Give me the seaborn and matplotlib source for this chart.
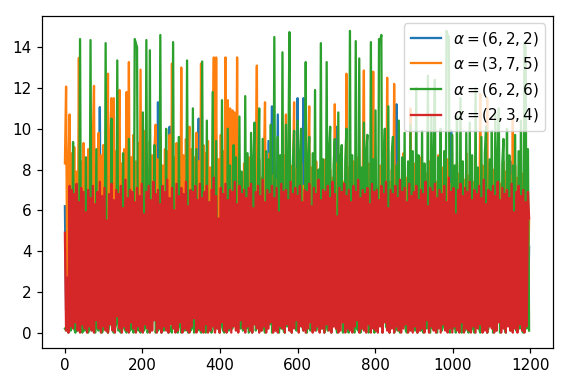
import matplotlib
matplotlib.use("Agg")
import matplotlib.pyplot as plt
import seaborn as sns

# sample positions (every 3rd step of the 0..1199 index range)
x_idx = list(range(0, 1200, 3))

labels = [r"$\alpha=(6,2,2)$", r"$\alpha=(3,7,5)$", r"$\alpha=(6,2,6)$", r"$\alpha=(2,3,4)$"]
colors = ["#1f77b4", "#ff7f0e", "#2ca02c", "#d62728"]

blue = [
    6.2, 1.1, 5.8, 0.6, 6.7, 2.0, 5.4, 0.9, 6.5, 1.5, 6.0, 0.7, 5.6, 1.8, 6.9, 0.5, 5.9, 2.2, 6.4, 1.0,
    5.7, 1.6, 6.6, 0.8, 6.1, 2.3, 5.5, 1.2, 6.8, 0.6, 11.06, 1.9, 6.3, 0.9, 5.6, 1.4, 6.7, 0.7, 6.0, 2.1,
    6.4, 0.9, 5.5, 1.3, 6.8, 0.7, 6.1, 2.1, 5.7, 1.0, 6.6, 0.5, 6.0, 1.7, 5.3, 0.8, 6.9, 1.4, 5.8, 0.6,
    6.1, 2.0, 6.7, 0.9, 5.6, 1.2, 6.3, 0.6, 6.9, 1.8, 5.4, 1.1, 6.5, 0.7, 6.0, 2.4, 5.8, 0.9, 6.6, 1.3,
    11.3, 0.8, 6.2, 1.5, 5.7, 0.6, 6.8, 2.2, 5.9, 1.0, 10.1, 0.7, 6.4, 1.9, 5.5, 1.2, 6.7, 0.5, 6.1, 1.6,
    5.8, 0.9, 6.6, 2.1, 6.0, 0.7, 5.4, 1.3, 6.9, 0.6, 6.2, 1.8, 5.7, 1.0, 6.5, 10.5, 0.8, 6.3, 2.0, 5.6,
    1.2, 6.8, 0.6, 6.1, 1.7, 5.9, 0.9, 6.6, 2.3, 5.5, 1.0, 6.4, 0.7, 6.0, 1.5, 6.7, 0.5, 5.8, 2.0, 6.3,
    0.9, 6.2, 1.4, 5.7, 0.6, 6.9, 2.1, 5.6, 1.1, 6.5, 0.8, 6.0, 1.9, 6.4, 0.7, 5.9, 1.3, 8.5, 0.5, 6.6,
    1.6, 6.1, 0.7, 5.8, 2.2, 6.7, 0.9, 5.5, 1.2, 6.3, 0.6, 6.8, 1.8, 6.0, 1.0, 9.4, 0.8, 6.4, 11.1, 1.5,
    6.2, 0.6, 5.9, 10.7, 1.1, 6.6, 2.0, 5.7, 0.8, 6.9, 1.4, 6.1, 0.5, 5.6, 1.9, 6.5, 0.9, 6.0, 2.3, 5.8,
    11.5, 0.7, 6.4, 1.3, 6.1, 11.5, 0.9, 5.7, 2.1, 6.8, 0.6, 6.2, 1.6, 5.5, 1.0, 6.7, 0.8, 6.0, 1.8, 6.3,
    0.5, 5.9, 1.2, 6.6, 2.2, 5.8, 0.9, 6.4, 1.5, 6.1, 0.7, 6.9, 1.9, 10.1, 0.6, 5.6, 1.1, 6.5, 2.0, 6.2,
    0.8, 5.7, 1.4, 6.3, 0.6, 6.8, 2.1, 5.9, 1.0, 6.5, 0.7, 6.0, 1.7, 5.4, 1.2, 6.7, 0.5, 6.2, 2.3, 5.8,
    0.9, 6.6, 1.3, 6.1, 0.6, 5.7, 1.9, 6.9, 0.8, 6.4, 1.5, 5.9, 0.7, 6.3, 2.2, 5.6, 1.0, 6.8, 0.5, 6.0,
    1.6, 6.5, 0.8, 5.8, 1.2, 11.2, 0.7, 6.2, 2.0, 6.7, 0.9, 5.5, 1.4, 6.4, 0.6, 6.1, 1.8, 5.9, 1.0, 6.6,
    0.7, 6.3, 2.1, 5.7, 0.9, 6.8, 1.3, 6.0, 0.5, 6.5, 1.7, 5.8, 1.1, 6.9, 0.8, 6.2, 2.3, 5.6, 0.6, 6.4,
    1.2, 6.1, 0.7, 6.7, 1.9, 5.9, 0.9, 6.3, 1.5, 5.5, 0.6, 6.6, 9.9, 1.0, 6.0, 2.0, 5.8, 0.8, 6.5, 1.4,
    6.2, 0.5, 5.7, 1.8, 6.9, 1.0, 6.4, 0.7, 5.9, 2.2, 6.1, 0.9, 6.8, 1.3, 5.6, 0.6, 6.5, 1.6, 6.0, 0.8,
    6.7, 2.1, 5.8, 0.9, 6.3, 1.2, 6.6, 0.5, 5.5, 1.7, 6.9, 0.8, 6.2, 1.4, 5.9, 2.0, 6.4, 0.7, 6.1, 1.1,
    5.7, 0.6, 6.5, 8.4, 1.3, 6.0, 1.9, 6.8, 0.7, 5.8, 1.0, 6.3, 2.2, 6.6, 0.9, 5.6, 1.5, 6.2, 0.8, 4.2,
]

orange = [
    8.3, 12.07, 2.1, 8.0, 10.7, 1.5, 8.8, 2.4, 9.1, 1.2, 7.9, 3.0, 13.48, 2.0, 8.4, 1.1, 9.3, 2.6, 8.1, 0.8,
    9.0, 1.7, 8.6, 2.9, 9.5, 12.1, 1.3, 8.2, 2.2, 9.8, 0.9, 8.7, 3.1, 9.2, 1.4, 8.5, 2.5, 12.7, 1.0, 9.4,
    11.5, 2.0, 11.5, 1.6, 8.9, 2.7, 9.6, 11.9, 1.1, 8.3, 2.4, 9.0, 0.8, 11.8, 2.9, 13.27, 1.5, 8.6, 2.2, 9.7,
    1.0, 8.4, 3.2, 9.3, 1.8, 12.9, 2.1, 8.8, 1.2, 9.9, 2.6, 8.1, 0.7, 9.4, 2.3, 8.7, 1.4, 9.1, 10.2, 1.9,
    8.5, 2.8, 9.6, 1.1, 8.2, 2.4, 9.0, 0.9, 8.9, 3.0, 9.7, 1.6, 13.2, 2.2, 8.6, 1.3, 9.3, 2.7, 8.0, 1.0,
    13.0, 2.1, 8.7, 1.5, 9.5, 2.9, 8.3, 10.1, 1.2, 9.0, 2.5, 8.6, 0.8, 9.8, 1.9, 8.4, 2.3, 13.2, 1.4, 9.2,
    2.6, 8.8, 1.0, 9.4, 2.2, 8.1, 1.7, 9.1, 13.5, 2.0, 13.5, 1.3, 8.5, 2.8, 9.7, 1.1, 8.9, 2.4, 13.5, 1.6,
    11.4, 2.3, 11.0, 1.2, 10.9, 2.7, 10.8, 1.5, 13.5, 2.0, 8.0, 0.9, 7.4, 2.6, 8.3, 1.8, 7.7, 3.0, 8.6, 1.1,
    7.2, 2.2, 8.1, 1.4, 7.8, 13.1, 1.0, 8.5, 2.5, 7.6, 1.7, 8.2, 11.3, 2.1, 7.3, 0.8, 8.8, 2.4, 7.7, 1.3,
    8.0, 2.9, 7.5, 1.1, 8.4, 2.0, 7.1, 1.6, 8.7, 2.3, 10.7, 0.9, 7.9, 2.7, 8.2, 1.2, 7.4, 11.3, 1.8, 8.0,
    2.4, 7.6, 1.0, 8.3, 2.6, 7.2, 1.5, 8.6, 2.1, 7.8, 11.1, 1.3, 8.1, 2.8, 7.5, 0.7, 8.4, 2.2, 7.0, 1.7,
    8.2, 2.5, 7.7, 1.1, 8.5, 2.0, 7.3, 1.4, 8.0, 2.9, 7.6, 1.0, 11.2, 2.3, 8.3, 1.6, 7.8, 2.7, 8.7, 1.2,
    7.4, 2.1, 12.7, 1.5, 8.1, 2.6, 7.5, 0.9, 8.4, 2.2, 7.9, 1.8, 8.6, 2.4, 7.2, 1.1, 8.0, 12.86, 1.7, 7.7,
    2.8, 8.3, 1.3, 7.6, 2.0, 12.8, 1.0, 8.5, 2.5, 7.1, 1.6, 8.2, 2.9, 7.8, 1.2, 8.7, 2.1, 12.5, 1.4, 7.4,
    2.3, 8.0, 1.8, 12.2, 2.6, 7.7, 1.1, 8.4, 2.0, 7.3, 1.5, 8.8, 2.7, 7.6, 0.9, 8.1, 2.2, 11.0, 1.3, 7.9,
    2.4, 8.3, 1.0, 7.5, 2.8, 8.6, 1.7, 7.2, 2.1, 8.0, 1.2, 7.8, 2.5, 8.4, 1.4, 7.6, 2.9, 8.2, 1.1, 7.4,
    2.0, 8.7, 1.6, 7.7, 2.3, 8.1, 0.8, 7.9, 2.6, 8.5, 1.3, 7.3, 2.2, 8.0, 1.8, 7.6, 2.7, 8.3, 1.0, 7.8,
    2.4, 8.4, 1.5, 7.5, 2.1, 8.8, 1.2, 7.7, 2.9, 8.1, 1.7, 7.4, 2.3, 8.6, 1.0, 7.9, 2.6, 11.7, 1.4, 8.2,
    2.2, 7.6, 1.9, 11.5, 1.1, 8.3, 2.5, 7.8, 1.3, 8.0, 2.8, 7.5, 1.6, 8.7, 2.0, 7.3, 1.2, 8.4, 2.7, 7.9,
    1.5, 8.1, 2.3, 7.7, 1.0, 10.5, 2.6, 8.2, 1.8, 7.6, 2.1, 8.5, 1.2, 7.8, 2.9, 8.0, 1.4, 8.3, 2.4, 5.5,
]

green = [
    0.2, 0.1, 0.4, 0.0, 0.3, 0.1, 0.6, 9.35, 0.2, 0.0, 0.5, 0.1, 0.3, 14.4, 0.2, 0.0, 0.4, 0.1, 8.6, 0.3,
    0.0, 0.2, 14.35, 0.1, 0.5, 3.2, 0.0, 9.0, 0.2, 0.1, 1.4, 0.3, 0.0, 0.2, 0.4, 14.2, 0.1, 0.0, 0.3, 0.6,
    10.5, 0.1, 0.0, 0.2, 0.4, 13.35, 0.1, 0.3, 0.0, 0.5, 8.8, 0.2, 0.1, 0.0, 0.3, 9.5, 0.1, 0.9, 0.2, 0.0,
    14.4, 14.2, 14.0, 0.1, 0.2, 0.0, 0.4, 10.8, 0.1, 0.3, 14.35, 0.0, 0.2, 13.85, 0.1, 0.5, 2.2, 9.2, 0.0, 0.3,
    0.1, 0.2, 14.6, 0.0, 0.4, 0.1, 0.7, 10.0, 0.2, 0.0, 0.3, 0.1, 0.0, 14.25, 0.2, 0.4, 0.1, 0.0, 9.6, 0.3,
    0.0, 0.2, 4.5, 0.1, 0.3, 13.35, 0.0, 0.4, 0.1, 0.2, 11.0, 0.0, 0.3, 9.0, 0.1, 0.6, 0.2, 0.0, 13.3, 0.1,
    0.3, 0.0, 10.4, 0.2, 0.1, 0.4, 0.0, 11.8, 0.3, 0.1, 9.4, 0.2, 1.1, 0.0, 0.3, 11.4, 0.1, 0.0, 0.4, 0.2,
    10.0, 0.1, 8.2, 0.3, 0.2, 9.2, 0.5, 8.6, 0.1, 0.3, 10.6, 0.2, 7.9, 0.1, 0.4, 11.6, 0.2, 8.8, 0.0, 0.1,
    9.8, 0.0, 8.4, 10.3, 0.1, 0.3, 8.0, 11.0, 0.2, 0.1, 9.5, 0.3, 0.0, 8.9, 0.2, 8.5, 0.4, 10.2, 0.0, 0.2,
    14.5, 0.1, 0.3, 9.6, 0.0, 8.7, 0.2, 13.75, 0.1, 0.0, 10.2, 0.3, 8.1, 14.74, 0.2, 0.0, 8.4, 9.9, 1.3, 0.1,
    10.4, 0.2, 8.6, 10.0, 0.3, 0.1, 0.4, 13.27, 0.0, 8.3, 9.6, 0.1, 0.3, 8.8, 0.2, 11.9, 0.1, 0.6, 8.0, 0.3,
    14.2, 0.2, 8.5, 0.0, 0.3, 13.27, 0.1, 8.9, 10.1, 0.0, 0.4, 8.2, 9.5, 0.3, 0.0, 10.8, 0.2, 8.6, 9.2, 0.0,
    0.3, 8.4, 10.0, 0.1, 0.0, 14.8, 0.2, 8.7, 0.1, 0.0, 14.3, 0.2, 0.1, 13.45, 0.0, 8.1, 0.2, 10.3, 0.1, 8.9,
    9.7, 0.0, 0.1, 14.25, 0.3, 8.5, 0.0, 10.9, 0.1, 0.4, 14.4, 14.3, 14.6, 0.0, 8.3, 10.0, 0.3, 0.2, 11.1, 0.0,
    0.5, 8.8, 9.6, 0.0, 0.3, 8.2, 0.1, 10.4, 0.0, 1.0, 8.6, 0.3, 9.8, 0.1, 0.0, 8.4, 0.2, 10.2, 0.1, 8.9,
    0.3, 0.1, 12.0, 0.0, 8.7, 0.4, 0.1, 9.9, 0.0, 8.3, 0.6, 0.2, 12.6, 0.1, 0.0, 10.7, 0.2, 8.5, 12.4, 0.1,
    0.0, 8.6, 0.4, 10.0, 0.1, 0.3, 8.9, 0.2, 14.8, 14.6, 14.5, 0.0, 0.3, 9.7, 0.2, 8.2, 0.0, 10.6, 0.4, 0.2,
    11.5, 0.0, 8.4, 0.8, 0.1, 9.8, 0.2, 0.0, 10.3, 0.1, 8.7, 0.2, 0.0, 12.0, 0.3, 8.1, 0.2, 0.0, 9.6, 0.1,
    0.3, 8.8, 10.1, 0.0, 0.2, 8.5, 0.4, 9.9, 0.0, 0.3, 10.8, 0.1, 8.6, 11.0, 0.0, 0.3, 8.3, 9.5, 0.2, 0.0,
    10.0, 0.4, 8.7, 0.1, 0.3, 8.2, 0.2, 9.7, 0.1, 0.3, 8.9, 0.2, 10.4, 0.1, 0.0, 14.2, 14.0, 0.2, 9.0, 0.1,
]

red = [
    4.9, 0.1, 2.7, 0.0, 7.2, 0.3, 7.0, 0.2, 6.8, 0.5, 7.3, 0.1, 6.4, 0.0, 7.1, 0.4, 6.9, 0.2, 5.9, 0.0,
    7.0, 0.3, 6.6, 0.1, 7.2, 0.0, 6.3, 0.6, 6.9, 0.2, 7.4, 0.0, 6.7, 0.3, 7.1, 0.1, 5.5, 0.0, 6.8, 0.4,
    7.3, 0.1, 6.5, 0.0, 7.0, 0.8, 6.8, 0.2, 7.2, 0.0, 6.1, 0.3, 7.5, 0.1, 6.6, 0.0, 7.0, 0.5, 6.9, 0.2,
    6.4, 0.0, 7.1, 0.3, 6.7, 0.1, 7.3, 0.0, 5.8, 0.4, 6.9, 0.2, 7.2, 0.0, 6.5, 0.1, 7.4, 0.6, 6.8, 0.0,
    7.0, 0.2, 6.3, 0.0, 7.2, 0.3, 6.9, 0.1, 7.5, 0.0, 6.6, 0.4, 7.1, 0.2, 6.0, 0.0, 7.3, 0.1, 6.7, 0.5,
    7.1, 0.0, 6.8, 0.2, 7.4, 0.1, 6.2, 0.0, 7.0, 0.3, 6.9, 0.7, 7.2, 0.0, 6.5, 0.2, 7.3, 0.1, 6.6, 0.0,
    6.9, 0.4, 7.2, 0.0, 6.4, 0.1, 7.0, 0.3, 7.6, 0.0, 6.7, 0.2, 5.6, 0.0, 7.1, 0.5, 6.8, 0.1, 7.3, 0.0,
    6.5, 0.2, 7.0, 0.0, 6.9, 0.3, 7.4, 0.1, 6.3, 0.0, 7.2, 0.6, 6.8, 0.2, 7.0, 0.0, 6.6, 0.3, 7.1, 0.1,
    7.3, 0.0, 6.1, 0.4, 6.9, 0.2, 7.2, 0.0, 6.7, 0.1, 7.5, 0.3, 6.4, 0.0, 7.0, 0.2, 6.8, 0.5, 7.2, 0.0,
    6.6, 0.1, 7.1, 0.0, 5.9, 0.3, 7.3, 0.2, 6.9, 0.0, 7.0, 0.4, 6.5, 0.1, 7.4, 0.0, 6.8, 0.2, 7.1, 0.6,
    6.7, 0.0, 7.2, 0.3, 6.4, 0.1, 7.0, 0.0, 6.9, 0.2, 7.3, 0.5, 6.2, 0.0, 7.1, 0.1, 6.8, 0.3, 7.5, 0.0,
    6.5, 0.2, 7.0, 0.0, 6.9, 0.4, 7.2, 0.1, 6.6, 0.0, 7.4, 0.3, 6.8, 0.2, 5.7, 0.0, 7.1, 0.1, 6.9, 0.5,
    7.3, 0.0, 6.7, 0.2, 7.0, 0.1, 6.4, 0.0, 7.2, 0.3, 6.9, 0.6, 7.5, 0.0, 6.6, 0.2, 7.0, 0.1, 6.8, 0.0,
    7.1, 0.4, 6.3, 0.0, 7.3, 0.2, 6.9, 0.1, 7.0, 0.0, 6.5, 0.3, 7.2, 0.0, 6.8, 0.5, 7.4, 0.1, 6.1, 0.0,
    7.0, 0.2, 6.8, 0.0, 7.2, 0.3, 6.6, 0.1, 7.5, 0.0, 6.9, 0.2, 7.1, 0.4, 6.4, 0.0, 7.3, 0.1, 6.7, 0.0,
    6.9, 0.3, 7.2, 0.0, 6.5, 0.1, 7.0, 0.2, 6.8, 0.0, 7.4, 0.6, 6.2, 0.0, 7.1, 0.3, 6.9, 0.1, 7.3, 0.0,
    6.6, 0.2, 7.0, 0.0, 6.8, 0.4, 7.2, 0.1, 6.4, 0.0, 7.6, 0.2, 6.9, 0.0, 7.1, 0.3, 5.8, 0.1, 7.0, 0.0,
    7.3, 0.5, 6.7, 0.0, 7.1, 0.2, 6.9, 0.1, 7.4, 0.0, 6.5, 0.3, 7.0, 0.0, 6.8, 0.2, 7.2, 0.4, 6.6, 0.0,
    7.5, 0.1, 6.3, 0.0, 7.0, 0.3, 6.9, 0.2, 7.2, 0.0, 6.7, 0.1, 7.4, 0.5, 6.5, 0.0, 7.1, 0.2, 6.8, 0.0,
    7.0, 0.3, 6.6, 0.1, 7.3, 0.0, 5.9, 0.2, 6.9, 0.0, 7.2, 0.4, 6.7, 0.1, 7.0, 0.0, 6.4, 0.3, 6.9, 5.6,
]

series = [blue, orange, green, red]

fig = plt.figure(figsize=(5.67, 3.85), dpi=100)
ax = fig.add_axes([0.0735, 0.0969, 0.902, 0.862])

for vals, lab, col in zip(series, labels, colors):
    sns.lineplot(x=x_idx, y=vals, color=col, label=lab, ax=ax,
                 estimator=None, sort=False, linewidth=1.65)

ax.set_xlim(-59.95, 1258.95)
ax.set_xticks([0, 200, 400, 600, 800, 1000, 1200])
ax.set_yticks([0, 2, 4, 6, 8, 10, 12, 14])
ax.set_xlabel("")
ax.set_ylabel("")
ax.tick_params(labelsize=11, length=3.85, width=0.88)
for sp in ax.spines.values():
    sp.set_linewidth(0.88)
ax.legend(loc="upper right", fontsize=11)

fig.savefig("out.png", dpi=100)
